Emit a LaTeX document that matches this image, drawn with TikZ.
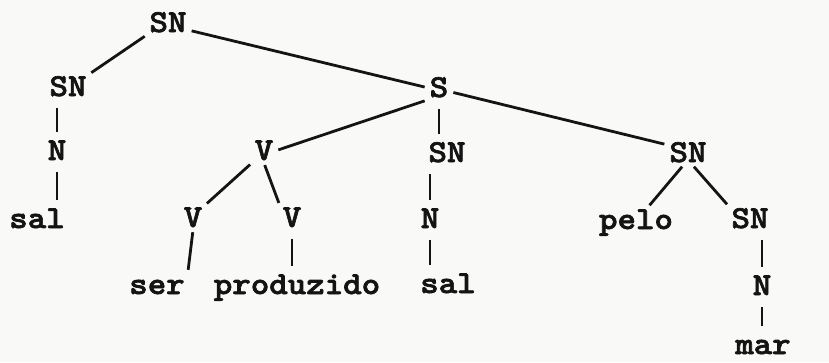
\documentclass[tikz,border=0pt]{standalone}
\usepackage{fontspec}
\newfontfamily\treeface{lmmonolt10-bold.otf}[FakeStretch=1.1,FakeBold=2]
\usepackage{tikz}
\definecolor{paper}{RGB}{249,249,247}
\definecolor{ink}{RGB}{20,20,20}
\newcommand{\treefont}{\treeface\fontsize{32}{32}\selectfont}

\begin{document}
\begin{tikzpicture}[x=1pt,y=-1pt,
  word/.style={font=\treefont,text=ink,anchor=base,inner sep=3pt,
  text height=19pt,text depth=0pt},
  branch/.style={draw=ink,line width=2.8pt,shorten <=2pt,shorten >=2pt},
  stem/.style={draw=ink,line width=2.8pt,shorten <=9pt,shorten >=6pt}]

  \fill[paper] (0,0) rectangle (829,362);
  \useasboundingbox (0,0) rectangle (829,362);

  % top of the tree
  \node[word] (SN0) at (168,32) {SN};
  \node[word] (SN1) at (68,96) {SN};
  \node[word] (S) at (439,97) {S};
  % second row
  \node[word] (N1) at (57,160) {N};
  \node[word] (V) at (264,160) {V};
  \node[word] (SN2) at (447,162) {SN};
  \node[word] (SN3) at (688,162) {SN};
  % third row
  \node[word] (sal1) at (37,228) {sal};
  \node[word] (V1) at (193,227) {V};
  \node[word] (V2) at (292,227) {V};
  \node[word] (N2) at (430,228) {N};
  \node[word] (pelo) at (636,229) {pelo};
  \node[word] (SN4) at (750,228) {SN};
  % leaves
  \node[word] (ser) at (157,294) {ser};
  \node[word] (prod) at (297,294) {produzido};
  \node[word] (sal2) at (448,293) {sal};
  \node[word] (N3) at (762,295) {N};
  \node[word] (mar) at (763,354) {mar};

  \path[branch]
    (SN0.south west) edge (SN1.north east)
    (SN0.-20) edge (S.west)
    (S.south west) edge (V.east)
    (S.-20) edge (SN3.160)
    (V.south west) edge (V1.north east)
    (V.south) edge (V2.north west)
    (V1.south) edge (ser.north east)
    (SN3.250) edge (pelo.46)
    (SN3.290) edge (SN4.north west);

  \path[stem]
    (SN1.south -| N1) edge (N1.north)
    (N1.south) edge (N1.south |- sal1.north)
    (S.south) edge (S.south |- SN2.north)
    (V2.south) edge (V2.south |- prod.north)
    (SN2.south -| N2) edge (N2.north)
    (N2.south) edge (N2.south |- sal2.north)
    (SN4.south -| N3) edge (N3.north)
    (N3.south) edge (N3.south |- mar.north);

\end{tikzpicture}
\end{document}
